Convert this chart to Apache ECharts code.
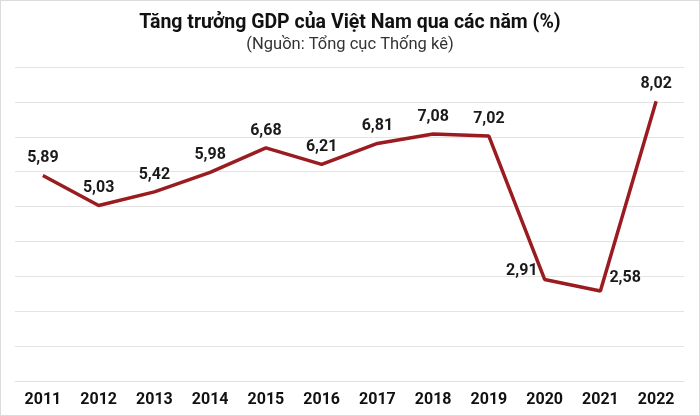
<!DOCTYPE html>
<html>
<head>
<meta charset="utf-8">
<script src="https://cdn.jsdelivr.net/npm/echarts@6/dist/echarts.min.js"></script>
<style>
html,body{margin:0;padding:0;background:#fff;}
#c{width:700px;height:416px;box-sizing:border-box;border:1px solid #dcdcdc;}
</style>
</head>
<body>
<div id="c"></div>
<script>
const years = ['2011','2012','2013','2014','2015','2016','2017','2018','2019','2020','2021','2022'];
const gdpGrowth = [5.89, 5.03, 5.42, 5.98, 6.68, 6.21, 6.81, 7.08, 7.02, 2.91, 2.58, 8.02];
const titleText = 'Tăng trưởng GDP của Việt Nam qua các năm (%)';
const subtitleText = '(Nguồn: Tổng cục Thống kê)';

const fmt = v => v.toFixed(2).replace('.', ',');
const seriesData = gdpGrowth.map((v, i) => {
  const d = { value: v };
  if (years[i] === '2020') d.label = { position: 'left', offset: [2, -8] };
  if (years[i] === '2021') d.label = { position: 'right', offset: [0, -13] };
  return d;
});

const chart = echarts.init(document.getElementById('c'));
chart.setOption({
  animation: false,
  title: {
    text: titleText,
    subtext: subtitleText,
    left: 'center',
    top: 7,
    itemGap: 3,
    textStyle: { fontFamily: 'Roboto', fontWeight: 'bold', fontSize: 19.5, color: '#111' },
    subtextStyle: { fontFamily: 'Roboto', fontSize: 16.5, color: '#333' }
  },
  grid: { left: 14, right: 15, top: 66, bottom: 34 },
  xAxis: {
    type: 'category',
    data: years,
    boundaryGap: true,
    axisLine: { show: true, lineStyle: { color: '#e0e0e0', width: 1 } },
    axisTick: { show: false },
    axisLabel: { fontFamily: 'Roboto', fontWeight: 'bold', fontSize: 16, color: '#111', margin: 11 }
  },
  yAxis: {
    type: 'value',
    min: 0, max: 9, interval: 1,
    axisLabel: { show: false },
    axisLine: { show: false },
    axisTick: { show: false },
    splitLine: { lineStyle: { color: '#e3e3e3', width: 1.2 } }
  },
  series: [{
    type: 'line',
    data: seriesData,
    symbol: 'circle',
    symbolSize: 0.1,
    showSymbol: true,
    itemStyle: { color: '#9a1b20' },
    lineStyle: { color: '#9a1b20', width: 3.5 },
    label: {
      show: true,
      position: 'top',
      distance: 9,
      fontFamily: 'Roboto',
      fontWeight: 'bold',
      fontSize: 16,
      color: '#1a1a1a',
      formatter: p => fmt(p.value)
    }
  }]
});
</script>
</body>
</html>
